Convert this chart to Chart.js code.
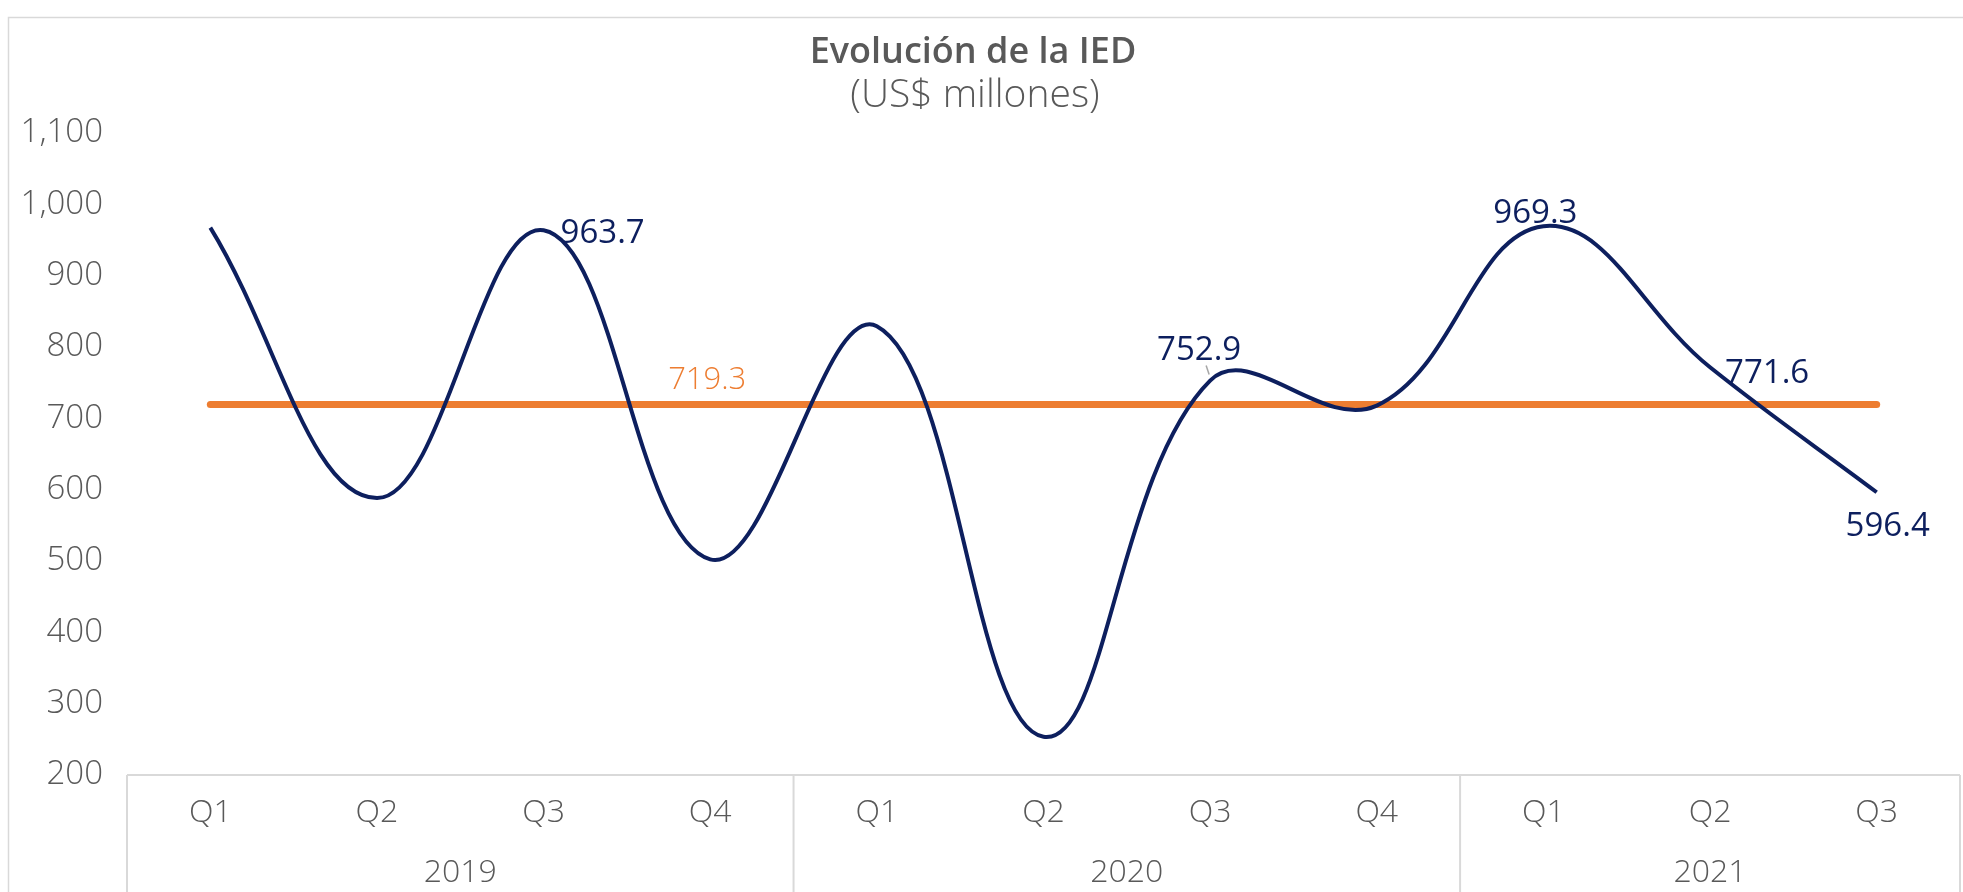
<!DOCTYPE html>
<html lang="es">
<head>
<meta charset="utf-8">
<title>Evolución de la IED</title>
<script src="https://cdn.jsdelivr.net/npm/chart.js@4.4.1/dist/chart.umd.min.js"></script>
<style>
  html, body { margin: 0; padding: 0; background: #ffffff; }
  #wrap { width: 1963px; height: 892px; position: relative; }
  canvas { display: block; }
</style>
</head>
<body>
<div id="wrap"><canvas id="ied" width="1963" height="892"></canvas></div>
<script>
// Inversión extranjera directa por trimestre (US$ millones)
const quarters = ['Q1', 'Q2', 'Q3', 'Q4', 'Q1', 'Q2', 'Q3', 'Q4', 'Q1', 'Q2', 'Q3'];
const years = ['2019', '2020', '2021'];
const quartersPerYear = [4, 4, 3];
const iedValues = [967.4, 588.2, 963.7, 502.3, 829.1, 253.6, 752.9, 717.8, 969.3, 771.6, 596.4];
const averageValues = [719.3, 719.3, 719.3, 719.3, 719.3, 719.3, 719.3, 719.3, 719.3, 719.3, 719.3];
const yMin = 200;
const yMax = 1100;
const yStep = 100;
// points whose value is written next to the line
const labelledPoints = [2, 6, 8, 9, 10];
const averageLabelPoint = 3;

const titleText = 'Evolución de la IED';
const subtitleText = '(US$ millones)';

const NAVY = '#0D1F5E';
const ORANGE = '#ED7D31';
const GREY_TEXT = '#595959';
const GREY_LINE = '#D9D9D9';
const FONT = '"Open Sans", "DejaVu Sans", sans-serif';

// placement of each value label relative to its point
const labelPlacement = {
  2:  { align: 'left',   dx: 17,  dy: 3 },
  6:  { align: 'center', dx: -11, dy: -30, leader: true },
  8:  { align: 'center', dx: -8,  dy: -13 },
  9:  { align: 'left',   dx: 15,  dy: 6 },
  10: { align: 'center', dx: 11,  dy: 34 }
};

const framePlugin = {
  id: 'frame',
  beforeDraw(chart) {
    const ctx = chart.ctx;
    ctx.save();
    ctx.fillStyle = '#ffffff';
    ctx.fillRect(0, 0, chart.width, chart.height);
    ctx.strokeStyle = GREY_LINE;
    ctx.lineWidth = 1.5;
    ctx.strokeRect(8.5, 17.5, chart.width, chart.height);
    ctx.restore();
  },
  afterDraw(chart) {
    const ctx = chart.ctx;
    const area = chart.chartArea;
    ctx.save();
    // titles
    ctx.fillStyle = GREY_TEXT;
    ctx.textAlign = 'center';
    ctx.textBaseline = 'middle';
    ctx.font = '600 36px ' + FONT;
    ctx.fillText(titleText, 973, 53);
    ctx.font = '300 39px ' + FONT;
    ctx.fillText(subtitleText, 975, 96);

    // category axis line and year group separators
    ctx.strokeStyle = GREY_LINE;
    ctx.lineWidth = 2;
    ctx.beginPath();
    ctx.moveTo(area.left, area.bottom);
    ctx.lineTo(area.right, area.bottom);
    ctx.stroke();
    const step = (area.right - area.left) / quarters.length;
    let start = 0;
    const bounds = [area.left];
    quartersPerYear.forEach(n => { start += n; bounds.push(area.left + start * step); });
    ctx.beginPath();
    bounds.forEach(bx => {
      ctx.moveTo(bx, area.bottom);
      ctx.lineTo(bx, chart.height);
    });
    ctx.stroke();

    // year labels
    ctx.fillStyle = GREY_TEXT;
    ctx.font = '300 32px ' + FONT;
    ctx.textAlign = 'center';
    years.forEach((yr, i) => {
      const cx = (bounds[i] + bounds[i + 1]) / 2;
      ctx.fillText(yr, cx, 873);
    });
    ctx.restore();
  },
  afterDatasetsDraw(chart) {
    const ctx = chart.ctx;
    const iedMeta = chart.getDatasetMeta(0);
    const avgMeta = chart.getDatasetMeta(1);
    ctx.save();
    ctx.textBaseline = 'middle';
    ctx.font = '400 33px ' + FONT;
    ctx.fillStyle = NAVY;
    labelledPoints.forEach(i => {
      const p = iedMeta.data[i];
      const place = labelPlacement[i];
      ctx.textAlign = place.align;
      if (place.leader) {
        ctx.strokeStyle = '#A6A6A6';
        ctx.lineWidth = 1.5;
        ctx.beginPath();
        ctx.moveTo(p.x - 4, p.y - 15);
        ctx.lineTo(p.x - 1, p.y - 6);
        ctx.stroke();
      }
      ctx.fillText(iedValues[i].toFixed(1), p.x + place.dx, p.y + place.dy);
    });
    const a = avgMeta.data[averageLabelPoint];
    ctx.fillStyle = ORANGE;
    ctx.font = '300 31px ' + FONT;
    ctx.textAlign = 'center';
    ctx.fillText(averageValues[averageLabelPoint].toFixed(1), a.x - 3, a.y - 24);
    ctx.restore();
  }
};

new Chart(document.getElementById('ied'), {
  type: 'line',
  data: {
    labels: quarters,
    datasets: [
      {
        label: 'IED',
        data: iedValues,
        borderColor: NAVY,
        borderWidth: 4,
        pointRadius: 0,
        tension: 0.4,
        fill: false,
        order: 0
      },
      {
        label: 'Promedio',
        data: averageValues,
        borderColor: ORANGE,
        borderWidth: 7,
        borderCapStyle: 'round',
        pointRadius: 0,
        tension: 0,
        fill: false,
        order: 1
      }
    ]
  },
  options: {
    responsive: false,
    animation: false,
    events: [],
    layout: { padding: { top: 133, right: 3, bottom: 0, left: 0 } },
    plugins: {
      legend: { display: false },
      title: { display: false },
      tooltip: { enabled: false }
    },
    scales: {
      x: {
        type: 'category',
        offset: true,
        grid: { display: false, drawTicks: false },
        border: { display: false },
        ticks: {
          color: GREY_TEXT,
          font: { family: FONT, size: 32, weight: '300' },
          padding: 19,
          maxRotation: 0,
          autoSkip: false
        },
        afterFit(scale) { scale.height = 117; }
      },
      y: {
        min: yMin,
        max: yMax,
        grid: { display: false, drawTicks: false },
        border: { display: false },
        ticks: {
          stepSize: yStep,
          color: GREY_TEXT,
          font: { family: FONT, size: 33, weight: '300' },
          padding: 24,
          callback: v => v.toLocaleString('en-US')
        },
        afterFit(scale) { scale.width = 127; }
      }
    }
  },
  plugins: [framePlugin]
});
</script>
</body>
</html>
